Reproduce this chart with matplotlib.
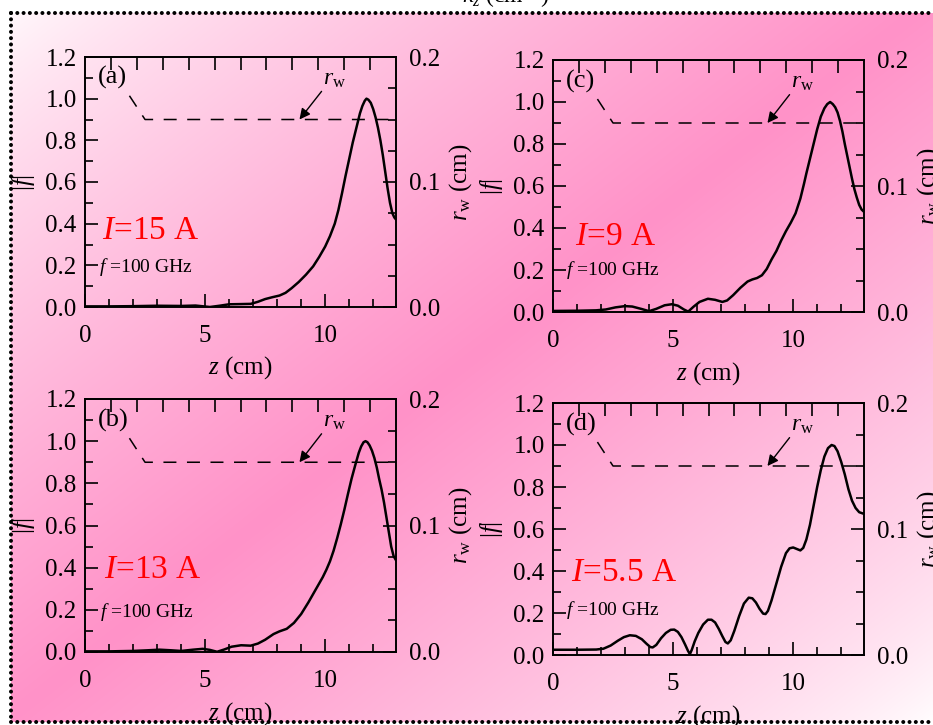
import numpy as np
import matplotlib
matplotlib.use("Agg")
import matplotlib.pyplot as plt
from matplotlib.lines import Line2D
from matplotlib.ticker import MultipleLocator, FormatStrFormatter, NullLocator

plt.rcParams['font.family'] = ['Liberation Serif', 'DejaVu Serif']
plt.rcParams['mathtext.fontset'] = 'custom'
plt.rcParams['mathtext.rm'] = 'Liberation Serif'
plt.rcParams['mathtext.it'] = 'Liberation Serif:italic'
plt.rcParams['mathtext.bf'] = 'Liberation Serif:bold'

# ---------------- data ----------------
panel_labels = ['(a)', '(b)', '(c)', '(d)']
currents = ['15', '13', '9', '5.5']
freq_text = '100 GHz'

# |f| profiles along z (cm)
z_a = [0, 1, 2, 3, 4, 4.6, 5.2, 5.6, 6.0, 6.5, 6.9, 7.2, 7.5, 7.8, 8.1, 8.35,
       8.6, 8.9, 9.2, 9.5, 9.75, 10.0, 10.2, 10.4, 10.55, 10.7, 10.85, 11.0,
       11.15, 11.3, 11.45, 11.55, 11.65, 11.72, 11.8, 11.9, 12.0, 12.1, 12.2,
       12.3, 12.4, 12.5, 12.6, 12.7, 12.8, 12.88, 12.95]
f_a = [0.003, 0.003, 0.004, 0.006, 0.005, 0.007, 0.0, 0.006, 0.013, 0.014,
       0.015, 0.025, 0.038, 0.047, 0.055, 0.068, 0.09, 0.12, 0.155, 0.195,
       0.24, 0.29, 0.34, 0.40, 0.465, 0.545, 0.63, 0.71, 0.79, 0.86, 0.93,
       0.965, 0.99, 1.0, 0.995, 0.98, 0.95, 0.91, 0.86, 0.80, 0.73, 0.65,
       0.57, 0.50, 0.45, 0.43, 0.42]

z_b = [0, 1, 2, 2.6, 3.1, 3.6, 4.0, 4.5, 4.9, 5.2, 5.5, 5.8, 6.1, 6.5, 6.9,
       7.2, 7.5, 7.85, 8.1, 8.4, 8.7, 9.0, 9.3, 9.6, 9.9, 10.05, 10.2, 10.35,
       10.5, 10.65, 10.8, 10.95, 11.1, 11.25, 11.4, 11.5, 11.6, 11.68, 11.76,
       11.85, 11.95, 12.05, 12.15, 12.25, 12.35, 12.45, 12.55, 12.65, 12.75,
       12.85, 12.95]
f_b = [0.003, 0.003, 0.005, 0.008, 0.011, 0.008, 0.005, 0.011, 0.015, 0.010,
       0.001, 0.012, 0.025, 0.032, 0.030, 0.040, 0.058, 0.085, 0.098, 0.110,
       0.138, 0.18, 0.235, 0.295, 0.355, 0.39, 0.43, 0.48, 0.54, 0.605, 0.675,
       0.75, 0.822, 0.885, 0.945, 0.975, 0.995, 1.0, 0.995, 0.98, 0.955, 0.92,
       0.875, 0.82, 0.77, 0.71, 0.64, 0.57, 0.50, 0.455, 0.435]

z_c = [0, 1.0, 1.8, 2.2, 2.6, 3.0, 3.3, 3.7, 4.0, 4.3, 4.65, 4.95, 5.2, 5.45,
       5.63, 5.85, 6.1, 6.45, 6.75, 7.05, 7.25, 7.5, 7.8, 8.1, 8.3, 8.5, 8.7,
       8.9, 9.1, 9.3, 9.5, 9.7, 9.9, 10.1, 10.3, 10.45, 10.55, 10.7, 10.85,
       11.0, 11.15, 11.3, 11.42, 11.54, 11.65, 11.75, 11.85, 11.95, 12.05,
       12.15, 12.25, 12.35, 12.45, 12.55, 12.65, 12.75, 12.85, 12.95]
f_c = [0.005, 0.006, 0.008, 0.012, 0.022, 0.028, 0.026, 0.014, 0.004, 0.015,
       0.032, 0.037, 0.030, 0.012, 0.002, 0.025, 0.048, 0.063, 0.058, 0.048,
       0.055, 0.080, 0.115, 0.145, 0.155, 0.162, 0.175, 0.205, 0.25, 0.29,
       0.34, 0.385, 0.425, 0.47, 0.54, 0.61, 0.66, 0.73, 0.80, 0.87, 0.93,
       0.97, 0.99, 1.0, 0.99, 0.975, 0.95, 0.91, 0.86, 0.80, 0.745, 0.69,
       0.635, 0.585, 0.545, 0.51, 0.488, 0.477]

z_d = [0, 1.0, 1.8, 2.1, 2.4, 2.7, 2.95, 3.2, 3.45, 3.7, 3.9, 4.05, 4.15, 4.3,
       4.5, 4.7, 4.9, 5.05, 5.2, 5.35, 5.5, 5.62, 5.7, 5.78, 5.9, 6.05, 6.25,
       6.45, 6.6, 6.75, 6.9, 7.05, 7.18, 7.28, 7.4, 7.55, 7.75, 7.95, 8.15,
       8.3, 8.45, 8.6, 8.75, 8.85, 8.95, 9.1, 9.3, 9.5, 9.7, 9.85, 10.0, 10.15,
       10.3, 10.42, 10.55, 10.7, 10.85, 11.0, 11.15, 11.3, 11.45, 11.6, 11.72,
       11.85, 12.0, 12.15, 12.3, 12.45, 12.6, 12.75, 12.95]
f_d = [0.025, 0.025, 0.026, 0.030, 0.045, 0.068, 0.085, 0.094, 0.091, 0.075,
       0.053, 0.038, 0.036, 0.048, 0.080, 0.105, 0.120, 0.121, 0.110, 0.085,
       0.050, 0.020, 0.004, 0.025, 0.065, 0.105, 0.145, 0.168, 0.168, 0.155,
       0.125, 0.090, 0.062, 0.055, 0.070, 0.115, 0.185, 0.245, 0.273, 0.270,
       0.250, 0.220, 0.197, 0.195, 0.210, 0.260, 0.340, 0.420, 0.485, 0.508,
       0.512, 0.505, 0.498, 0.510, 0.550, 0.620, 0.710, 0.800, 0.880, 0.945,
       0.985, 1.0, 0.995, 0.970, 0.920, 0.860, 0.790, 0.735, 0.700, 0.680,
       0.672]

z_series = [z_a, z_b, z_c, z_d]
f_series = [f_a, f_b, f_c, f_d]

# wall radius (right axis)
z_wall = [1.85, 2.5, 12.95]
r_wall = [0.169, 0.15, 0.15]

# ---------------- figure ----------------
W, H = 933, 725
fig = plt.figure(figsize=(W / 100, H / 100), dpi=100)
fig.patch.set_facecolor('white')

# pink diagonal background inside the dotted frame
x0, y0, x1, y1 = 11, 13, 933, 722
bg = fig.add_axes([x0 / W, 1 - y1 / H, (x1 - x0) / W, (y1 - y0) / H], zorder=-10)
bg.set_axis_off()
xx, yy = np.meshgrid(np.linspace(x0, x1, 300), np.linspace(y0, y1, 240))
s = xx / W + yy / H
t = np.clip(1 - np.abs(s - 1.0), 0, 1) ** 0.75
pink = np.array([255, 146, 200]) / 255.0
white = np.array([1.0, 1.0, 1.0])
img = white[None, None, :] * (1 - t[..., None]) + pink[None, None, :] * t[..., None]
bg.imshow(img, extent=[0, 1, 0, 1], origin='upper', aspect='auto', interpolation='bilinear')

# dotted frame
dot_kw = dict(color='black', lw=2.9, linestyle=(0, (0.01, 1.55)),
              dash_capstyle='round', solid_capstyle='round')
fig.add_artist(Line2D([x0 / W, 1.0], [1 - y0 / H, 1 - y0 / H], transform=fig.transFigure, **dot_kw))
fig.add_artist(Line2D([x0 / W, x0 / W], [1 - y0 / H, 1 - y1 / H], transform=fig.transFigure, **dot_kw))
fig.add_artist(Line2D([x0 / W, 1.0], [1 - y1 / H, 1 - y1 / H], transform=fig.transFigure, **dot_kw))

# title of the panel above, cut off at the top edge
fig.text(462 / W, 1 - 4 / H, r'$k_z$ (cm$^{-1}$)', fontsize=17, ha='left', va='baseline')

# axes boxes in pixels: left, top, right, bottom
boxes = [(85, 57, 396, 307), (85, 399, 396, 652), (553, 60, 864, 312), (553, 403, 864, 655)]
label_pos = [(0.55, 1.074), (0.55, 1.07), (0.55, 1.07), (0.55, 1.07)]
cur_pos = [(0.72, 0.325), (0.78, 0.349), (0.92, 0.318), (0.74, 0.354)]
freq_pos = [(0.58, 0.17), (0.62, 0.166), (0.55, 0.175), (0.55, 0.19)]

lw_spine = 1.2
for i in range(4):
    l, tp, r, b = boxes[i]
    ax = fig.add_axes([l / W, 1 - b / H, (r - l) / W, (b - tp) / H])
    ax.set_facecolor('none')
    ax2 = ax.twinx()
    ax2.set_facecolor('none')

    ax.plot(z_series[i], f_series[i], color='black', lw=1.8,
            solid_joinstyle='round', solid_capstyle='round')
    ax2.plot(z_wall, r_wall, color='black', lw=1.1, linestyle=(0, (8.5, 6.9)))

    ax.set_xlim(0, 12.95)
    ax.set_ylim(0, 1.2)
    ax2.set_ylim(0, 0.2)

    ax.xaxis.set_major_locator(MultipleLocator(5))
    ax.xaxis.set_minor_locator(MultipleLocator(1))
    ax.yaxis.set_major_locator(MultipleLocator(0.2))
    ax.yaxis.set_minor_locator(MultipleLocator(0.1))
    ax.yaxis.set_major_formatter(FormatStrFormatter('%.1f'))
    ax2.yaxis.set_major_locator(MultipleLocator(0.1))
    ax2.yaxis.set_minor_locator(MultipleLocator(0.025))
    ax2.yaxis.set_major_formatter(FormatStrFormatter('%.1f'))

    ax.tick_params(axis='x', which='major', direction='in', length=9.5, width=lw_spine,
                   top=False, labelsize=18, pad=13)
    ax.tick_params(axis='x', which='minor', direction='in', length=6, width=lw_spine, top=False)
    ax.tick_params(axis='y', which='major', direction='in', length=9.5, width=lw_spine,
                   right=False, labelsize=18, pad=6)
    ax.tick_params(axis='y', which='minor', direction='in', length=6, width=lw_spine, right=False)
    ax2.tick_params(axis='y', which='major', direction='in', length=9.5, width=lw_spine,
                    labelsize=18, pad=9)
    ax2.tick_params(axis='y', which='minor', direction='in', length=6, width=lw_spine)

    sec = ax.secondary_xaxis('top', functions=(lambda z: z * 12 / 12.95, lambda u: u * 12.95 / 12))
    sec.set_xticks(list(range(1, 12)))
    sec.tick_params(direction='in', length=9.5, width=lw_spine, labeltop=False)
    sec.xaxis.set_minor_locator(NullLocator())
    sec.spines['top'].set_linewidth(lw_spine)

    for a in (ax, ax2):
        for sp in a.spines.values():
            sp.set_linewidth(lw_spine)

    ax.set_xlabel(r'$z$ (cm)', fontsize=18)
    ax.xaxis.set_label_coords(0.5, -0.19)
    ax.set_ylabel(r'|$f$|', fontsize=18)
    ax.yaxis.set_label_coords(-0.155, 0.5)
    ax2.set_ylabel(r'$r_{\rm w}$ (cm)', fontsize=18)
    ax2.yaxis.set_label_coords(1.165, 0.5)

    ax.text(label_pos[i][0], label_pos[i][1], panel_labels[i], fontsize=19,
            ha='left', va='baseline')
    ax.text(cur_pos[i][0], cur_pos[i][1], r'$I$=' + currents[i] + ' A', fontsize=24,
            color='#ff0000', ha='left', va='baseline')
    ax.text(freq_pos[i][0], freq_pos[i][1], r'$f$ =' + freq_text, fontsize=14,
            ha='left', va='baseline')

    ax.annotate('', xy=(8.93, 0.9), xytext=(9.85, 1.035),
                arrowprops=dict(arrowstyle='-|>', color='black', lw=1.0,
                                mutation_scale=16, shrinkA=0, shrinkB=0))
    ax.text(9.9, 1.068, r'$r_{\rm w}$', fontsize=17, ha='left', va='baseline')

fig.savefig('out.png', dpi=100, facecolor=fig.get_facecolor())
